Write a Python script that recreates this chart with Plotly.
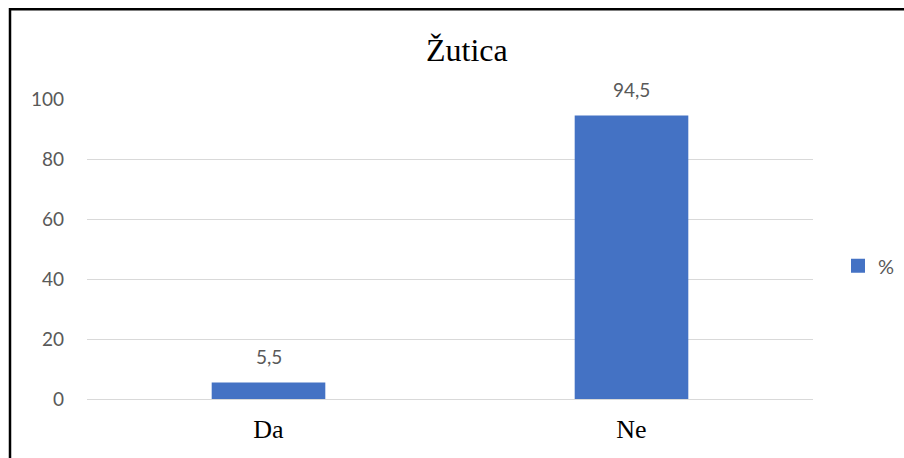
import plotly.graph_objects as go

categories = ["Da", "Ne"]
values = [5.5, 94.5]
series_name = "%"
title_text = "Žutica"
y_ticks = [0, 20, 40, 60, 80, 100]

PL, PR = 87, 813
PT, PB = 99, 399.5
W, H = 904, 458
pw = PR - PL
ph = PB - PT

def px_x(x):
    return (x - PL) / pw

def px_y(y):
    return (PB - y) / ph

fig = go.Figure()
fig.add_trace(go.Bar(
    x=categories, y=values, name=series_name,
    marker=dict(color="#4472C4", line=dict(width=0)),
    showlegend=False,
))
fig.add_trace(go.Scatter(
    x=[None], y=[None], name=series_name, mode="markers",
    marker=dict(symbol="square", size=14, color="#4472C4"),
    showlegend=True,
))

for c, v in zip(categories, values):
    fig.add_annotation(
        x=c, y=v, xref="x", yref="y",
        text=f"{v:.1f}".replace(".", ","),
        showarrow=False, yanchor="bottom", yshift=13,
        font=dict(family="Lato, Open Sans, sans-serif", size=19, color="#595959"),
    )

fig.add_annotation(
    x=px_x(467), y=px_y(50), xref="paper", yref="paper",
    text=title_text, showarrow=False, xanchor="center", yanchor="middle",
    font=dict(family="Liberation Serif, Times New Roman, serif", size=32, color="#000000"),
)

fig.add_shape(
    type="rect", xref="paper", yref="paper",
    x0=px_x(10), x1=px_x(960), y0=px_y(9), y1=px_y(500),
    line=dict(color="#000000", width=2.5), fillcolor="rgba(0,0,0,0)", layer="above",
)

fig.update_layout(
    width=W, height=H,
    margin=dict(l=PL, r=W - PR, t=PT, b=H - PB, pad=0, autoexpand=False),
    paper_bgcolor="white", plot_bgcolor="white",
    bargap=0.687,
    showlegend=True,
    legend=dict(
        x=px_x(838), y=px_y(266), xanchor="left", yanchor="middle",
        font=dict(family="Lato, Open Sans, sans-serif", size=20, color="#595959"),
        bgcolor="rgba(0,0,0,0)", itemwidth=30,
    ),
    xaxis=dict(
        showgrid=False, showline=False, ticks="", ticklabelstandoff=12,
        tickfont=dict(family="Liberation Serif, Times New Roman, serif", size=26, color="#000000"),
    ),
    yaxis=dict(
        range=[0, 100], tickvals=y_ticks, showgrid=True, gridcolor="#D9D9D9", gridwidth=1,
        zeroline=True, zerolinecolor="#D9D9D9", zerolinewidth=1,
        showline=False, ticks="", ticklabelstandoff=22,
        tickfont=dict(family="Lato, Open Sans, sans-serif", size=19, color="#595959"),
    ),
)

fig.write_html(
    "out.html",
    config={"displayModeBar": False},
    post_script="document.body.style.margin='0';document.body.style.overflow='hidden';",
)
